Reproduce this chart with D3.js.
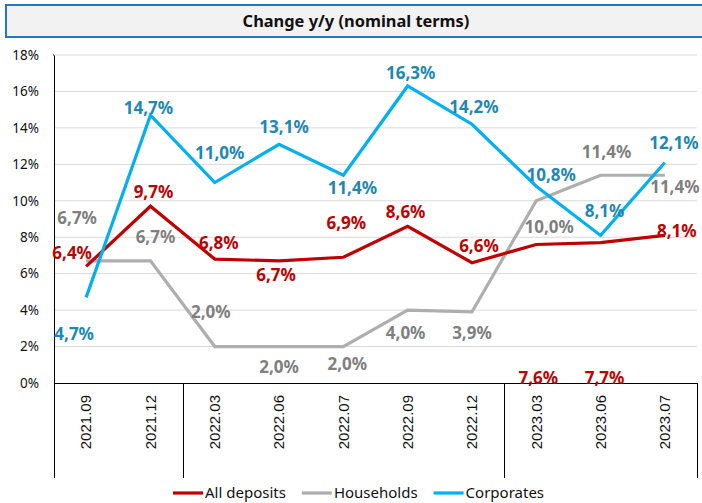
<!DOCTYPE html>
<html>
<head>
<meta charset="utf-8">
<script src="https://cdn.jsdelivr.net/npm/d3@7"></script>
<style>
  body { margin: 0; background: #fff; }
  svg { display: block; }
</style>
</head>
<body>
<div id="chart"></div>
<script>
// data
var periods = ["2021.09", "2021.12", "2022.03", "2022.06", "2022.07", "2022.09", "2022.12", "2023.03", "2023.06", "2023.07"];
var allDeposits = [6.4, 9.7, 6.8, 6.7, 6.9, 8.6, 6.6, 7.6, 7.7, 8.1];
var households  = [6.7, 6.7, 2.0, 2.0, 2.0, 4.0, 3.9, 10.0, 11.4, 11.4];
var corporates  = [4.7, 14.7, 11.0, 13.1, 11.4, 16.3, 14.2, 10.8, 8.1, 12.1];
var yTicks = [0, 2, 4, 6, 8, 10, 12, 14, 16, 18];
var yearBreaks = [2, 7];   // index where a new year group starts

// where each value label sits relative to its point (dx, dy)
var offsetsAll = [[-14,-13],[3,-14],[4,-16],[-3,14],[3,-34],[-2,-14],[7,-17],[2,133],[4,135],[12,-5]];
var offsetsHh  = [[-9,-43],[5,-24],[-4,-35],[0,20],[4,17],[-2,23],[0,21],[13,26],[6,-23],[10,12]];
var offsetsCo  = [[-12,37],[-2,-7],[5,-30],[5,-17],[9,13],[3,-13],[2,-17],[15,-11],[4,-25],[9,-20]];

var series = [
  {name: "All deposits", values: allDeposits, line: "#c00000", label: "#c00000", offsets: offsetsAll},
  {name: "Households",   values: households,  line: "#aeaeae", label: "#7f7f7f", offsets: offsetsHh},
  {name: "Corporates",   values: corporates,  line: "#00b0f0", label: "#1e87b2", offsets: offsetsCo}
];

var W = 702, H = 503;
var plot = {left: 54, right: 697, top: 55, bottom: 383};

var svg = d3.select("#chart").append("svg")
    .attr("width", W)
    .attr("height", H);

// title box
svg.append("rect")
    .attr("x", 6).attr("y", 5)
    .attr("width", 702).attr("height", 32)
    .attr("fill", "#f2f2f2")
    .attr("stroke", "#1f7bbf")
    .attr("stroke-width", 2);
svg.append("text")
    .attr("x", 356).attr("y", 27)
    .attr("text-anchor", "middle")
    .style("font-family", "'Noto Sans', sans-serif")
    .style("font-weight", "bold")
    .style("font-size", "16.4px")
    .attr("fill", "#111")
    .text("Change y/y (nominal terms)");

var x = d3.scaleBand()
    .domain(periods)
    .range([plot.left, plot.right]);

var y = d3.scaleLinear()
    .domain([0, 18])
    .range([plot.bottom, plot.top]);

function cx(d) { return x(d) + x.bandwidth() / 2; }

// gridlines
svg.append("g")
    .selectAll("line")
    .data(yTicks.filter(function(t) { return t > 0; }))
    .enter().append("line")
      .attr("x1", plot.left).attr("x2", plot.right)
      .attr("y1", function(d) { return y(d); })
      .attr("y2", function(d) { return y(d); })
      .attr("stroke", "#d9d9d9")
      .attr("stroke-width", 1);

// y axis
var yAxis = svg.append("g")
    .attr("transform", "translate(" + plot.left + ",0)")
    .call(d3.axisLeft(y).tickValues(yTicks).tickSize(0).tickPadding(15)
      .tickFormat(function(d) { return d + "%"; }));
yAxis.select(".domain").attr("stroke", "#000");
yAxis.selectAll("text")
    .style("font-family", "'Noto Sans', sans-serif")
    .style("font-size", "13.5px")
    .attr("fill", "#111");
svg.append("line")
    .attr("x1", plot.left - 1).attr("x2", plot.left)
    .attr("y1", plot.top).attr("y2", plot.top)
    .attr("stroke", "#000");

// category axis: baseline + group separators
svg.append("line")
    .attr("x1", plot.left).attr("x2", plot.right)
    .attr("y1", plot.bottom + 0.5).attr("y2", plot.bottom + 0.5)
    .attr("stroke", "#000");

var seps = [plot.left].concat(yearBreaks.map(function(i) { return x(periods[i]); })).concat([plot.right]);
svg.append("g")
    .selectAll("line")
    .data(seps)
    .enter().append("line")
      .attr("x1", function(d) { return Math.round(d) + 0.5; })
      .attr("x2", function(d) { return Math.round(d) + 0.5; })
      .attr("y1", plot.bottom).attr("y2", 478)
      .attr("stroke", "#000");

svg.append("g")
    .selectAll("text")
    .data(periods)
    .enter().append("text")
      .attr("transform", function(d) { return "translate(" + cx(d) + ",395) rotate(-90)"; })
      .attr("text-anchor", "end")
      .attr("dy", "0.35em")
      .style("font-family", "'Liberation Sans', Arial, sans-serif")
      .style("font-size", "15px")
      .attr("fill", "#111")
      .text(function(d) { return d; });

// lines
var line = d3.line()
    .x(function(d, i) { return cx(periods[i]); })
    .y(function(d) { return y(d); });

// draw order: households, all deposits, corporates (corporates on top)
var order = [series[1], series[0], series[2]];
svg.append("g")
    .selectAll("path")
    .data(order)
    .enter().append("path")
      .attr("d", function(s) { return line(s.values); })
      .attr("fill", "none")
      .attr("stroke", function(s) { return s.line; })
      .attr("stroke-width", 3.2)
      .attr("stroke-linejoin", "miter");

// value labels
series.forEach(function(s) {
  svg.append("g")
      .selectAll("text")
      .data(s.values)
      .enter().append("text")
        .attr("x", function(d, i) { return cx(periods[i]) + s.offsets[i][0]; })
        .attr("y", function(d, i) { return y(d) + s.offsets[i][1]; })
        .attr("text-anchor", "middle")
        .attr("dy", "0.36em")
        .style("font-family", "'Noto Sans', sans-serif")
        .style("font-weight", "bold")
        .style("font-size", "17px")
        .attr("fill", s.label)
        .text(function(d) { return d.toFixed(1).replace(".", ",") + "%"; });
});

// legend
var legend = svg.append("g");
var lx = 173;
series.forEach(function(s) {
  legend.append("line")
      .attr("x1", lx).attr("x2", lx + 30)
      .attr("y1", 493).attr("y2", 493)
      .attr("stroke", s.line)
      .attr("stroke-width", 3.2);
  var t = legend.append("text")
      .attr("x", lx + 32).attr("y", 493)
      .attr("dy", "0.35em")
      .style("font-family", "'Noto Sans', sans-serif")
      .style("font-size", "15px")
      .attr("fill", "#111")
      .text(s.name);
  lx += 32 + t.node().getComputedTextLength() + 16;
});
</script>
</body>
</html>
